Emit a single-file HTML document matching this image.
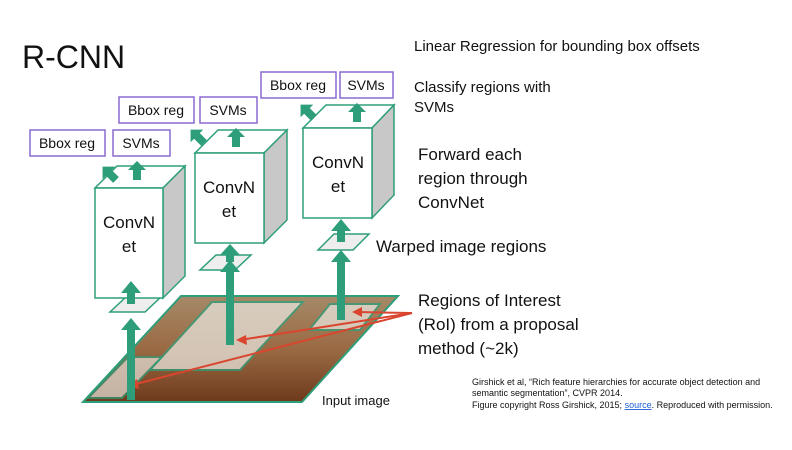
<!DOCTYPE html>
<html><head><style>
body{margin:0;background:#fff;}
svg text{font-family:"Liberation Sans",sans-serif;}
</style></head><body>
<svg width="792" height="445" viewBox="0 0 792 445" xmlns="http://www.w3.org/2000/svg">
<defs>
<linearGradient id="img" x1="0" y1="0" x2="0" y2="1">
<stop offset="0" stop-color="#a58a68"/><stop offset="0.5" stop-color="#9a6a44"/><stop offset="1" stop-color="#6e3a1c"/>
</linearGradient>
<polygon id="ua" points="-4,0 -4,-10 -9,-10 0,-19 9,-10 4,-10 4,0" fill="#2e9e7a"/>
</defs>
<text x="22" y="68" font-size="32" fill="#111">R-CNN</text>
<!-- input image -->
<polygon points="83,402 302,402 398,296 181,296" fill="url(#img)" stroke="#2e9e7a" stroke-width="2"/>
<polygon points="150,370 240,370 303,302 212,302" fill="#e8e4dc" opacity="0.75" stroke="#2e9e7a" stroke-width="2"/>
<polygon points="309,330 360,330 380,304 330,304" fill="#e8e4dc" opacity="0.75" stroke="#2e9e7a" stroke-width="2"/>
<polygon points="88,398 122,398 162,357 128,357" fill="#e8e4dc" opacity="0.7" stroke="#2e9e7a" stroke-width="2"/>
<!-- red lines -->
<g stroke="#d9452e" stroke-width="2" fill="none">
<line x1="412" y1="313" x2="356" y2="312"/>
<line x1="412" y1="313" x2="240" y2="340"/>
<line x1="412" y1="313" x2="132" y2="385"/>
</g>
<g fill="#d9452e"><polygon points="352,312 362,307 362,317"/><polygon points="236,340 246,335 247,345"/><polygon points="128,386 137,379 139,389"/></g>
<!-- warped regions -->
<polygon points="110,312 145,312 162,296 127,296" fill="#eee" stroke="#2e9e7a" stroke-width="1.5"/>
<polygon points="200,270 235,270 251,255 216,255" fill="#eee" stroke="#2e9e7a" stroke-width="1.5"/>
<polygon points="318,250 353,250 369,234 334,234" fill="#eee" stroke="#2e9e7a" stroke-width="1.5"/>
<!-- cubes -->
<g stroke="#2e9e7a" stroke-width="1.5">
<polygon points="95,188 117,166 185,166 163,188" fill="#fff"/>
<polygon points="163,188 185,166 185,276 163,298" fill="#c8c8c8"/>
<rect x="95" y="188" width="68" height="110" fill="#fff"/>
<polygon points="195,153 218,130 287,130 264,153" fill="#fff"/>
<polygon points="264,153 287,130 287,220 264,243" fill="#c8c8c8"/>
<rect x="195" y="153" width="69" height="90" fill="#fff"/>
<polygon points="303,128 326,105 394,105 372,128" fill="#fff"/>
<polygon points="372,128 394,105 394,195 372,218" fill="#c8c8c8"/>
<rect x="303" y="128" width="69" height="90" fill="#fff"/>
</g>
<g font-size="17" fill="#111" text-anchor="middle">
<text x="129" y="228">ConvN</text><text x="129" y="252">et</text>
<text x="229" y="193">ConvN</text><text x="229" y="217">et</text>
<text x="338" y="168">ConvN</text><text x="338" y="192">et</text>
</g>
<!-- green arrows -->
<g fill="#2e9e7a">
<polygon points="127,400 127,330 121,330 131,318 141,330 135,330 135,400"/>
<polygon points="127,304 127,293 121,293 131,281 141,293 135,293 135,304"/>
<polygon points="226,345 226,272 220,272 230,260 240,272 234,272 234,345"/>
<polygon points="226,262 226,255 220,255 230,244 240,255 234,255 234,262"/>
<polygon points="337,320 337,262 331,262 341,250 351,262 345,262 345,320"/>
<polygon points="337,242 337,231 331,231 341,219 351,231 345,231 345,242"/>
</g>
<use href="#ua" transform="translate(137,180)"/>
<use href="#ua" transform="translate(236,147)"/>
<use href="#ua" transform="translate(357,122)"/>
<use href="#ua" transform="translate(116,180) rotate(-45)"/>
<use href="#ua" transform="translate(204,143) rotate(-45)"/>
<use href="#ua" transform="translate(314,118) rotate(-45)"/>
<!-- label boxes -->
<g stroke="#8a6ad0" stroke-width="1.5" fill="#fff">
<rect x="30" y="130" width="75" height="26"/><rect x="113" y="130" width="57" height="26"/>
<rect x="119" y="97" width="75" height="26"/><rect x="200" y="97" width="57" height="26"/>
<rect x="261" y="72" width="75" height="26"/><rect x="340" y="72" width="53" height="26"/>
</g>
<g font-size="14" fill="#111" text-anchor="middle">
<text x="67" y="148">Bbox reg</text><text x="141" y="148">SVMs</text>
<text x="156" y="115">Bbox reg</text><text x="228" y="115">SVMs</text>
<text x="298" y="90">Bbox reg</text><text x="366" y="90">SVMs</text>
</g>
<g fill="#111">
<text x="414" y="51" font-size="15">Linear Regression for bounding box offsets</text>
<text x="414" y="92" font-size="15">Classify regions with</text>
<text x="414" y="112" font-size="15">SVMs</text>
<text x="418" y="160" font-size="17">Forward each</text>
<text x="418" y="184" font-size="17">region through</text>
<text x="418" y="208" font-size="17">ConvNet</text>
<text x="376" y="252" font-size="17">Warped image regions</text>
<text x="418" y="306" font-size="17">Regions of Interest</text>
<text x="418" y="330" font-size="17">(RoI) from a proposal</text>
<text x="418" y="354" font-size="17">method (~2k)</text>
<text x="322" y="405" font-size="13">Input image</text>
<text x="472" y="385" font-size="9">Girshick et al, “Rich feature hierarchies for accurate object detection and</text>
<text x="472" y="396" font-size="9">semantic segmentation”, CVPR 2014.</text>
<text x="472" y="408" font-size="9">Figure copyright Ross Girshick, 2015; <tspan fill="#1a5fd0" text-decoration="underline">source</tspan>. Reproduced with permission.</text>
</g>
</svg>
</body></html>
